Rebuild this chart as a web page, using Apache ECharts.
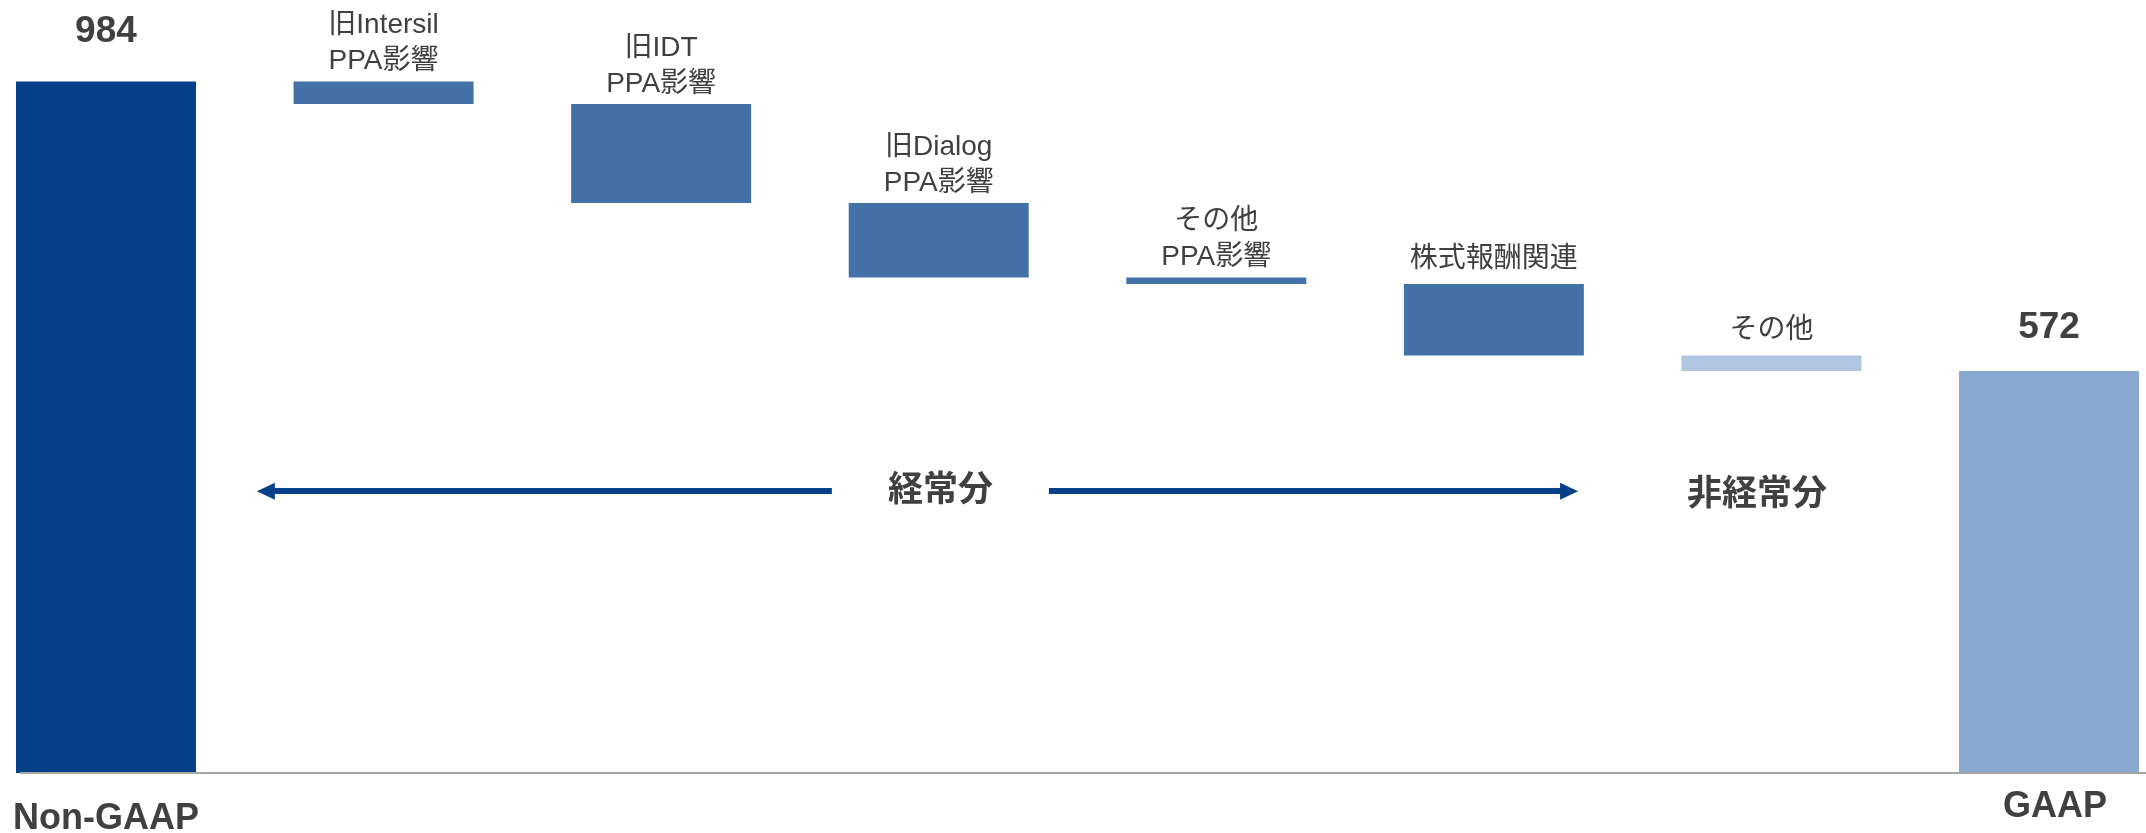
<!DOCTYPE html>
<html>
<head>
<meta charset="utf-8">
<script src="https://cdn.jsdelivr.net/npm/echarts@6/dist/echarts.min.js"></script>
<style>
html,body{margin:0;padding:0;background:#fff;}
#chart{width:2146px;height:833px;}
</style>
</head>
<body>
<div id="chart"></div>
<script>
// ---- data ----
const categories = ['Non-GAAP', '旧Intersil\nPPA影響', '旧IDT\nPPA影響', '旧Dialog\nPPA影響', 'その他\nPPA影響', '株式報酬関連', 'その他', 'GAAP'];
const changes = [984, -32, -141, -106, -9, -102, -22, 572];
const kinds = ['total', 'delta', 'delta', 'delta', 'delta', 'delta', 'other', 'total'];
const sectionLabels = ['経常分', '非経常分'];

// ---- styles ----
const FONT = "'Liberation Sans', 'Noto Sans CJK JP', sans-serif";
const TEXT = '#404040';
const barColors = ['#07408A', '#4571A9', '#4571A9', '#4571A9', '#4571A9', '#4571A9', '#B0C6E1', '#8AA9D0'];
const labelDistances = [31, 2, 2, 2, 2, 7, 7, 25];

// build waterfall (base + visible)
const baseData = [];
const barData = [];
let running = 0;
changes.forEach((v, i) => {
  if (kinds[i] === 'total') {
    baseData.push(0);
    barData.push({
      value: v,
      itemStyle: { color: barColors[i] },
      label: {
        show: true, position: 'top', distance: labelDistances[i],
        formatter: String(v),
        fontFamily: FONT, fontSize: 37, fontWeight: 'bold', color: TEXT
      }
    });
    running = v;
  } else {
    const next = running + v;
    baseData.push(Math.min(running, next));
    barData.push({
      value: Math.abs(v),
      itemStyle: { color: barColors[i] },
      label: {
        show: true, position: 'top', distance: labelDistances[i],
        formatter: categories[i],
        fontFamily: FONT, fontSize: 28, lineHeight: 36, color: TEXT
      }
    });
    running = next;
  }
});

// per-category axis label tweaks (last label sits a little higher / right)
const axisData = categories.map((c, i) => (
  i === categories.length - 1
    ? { value: c, textStyle: { verticalAlign: 'top', lineHeight: 12, padding: [0, 0, 0, 12] } }
    : c
));

const chart = echarts.init(document.getElementById('chart'), null, { renderer: 'canvas' });
const ARROW_Y = 401;
chart.setOption({
  animation: false,
  backgroundColor: '#ffffff',
  grid: [
    { left: -32.8, width: 2220.6, top: 0, bottom: 60, containLabel: false, outerBoundsMode: 'none' },
    { left: 21, right: 0, top: 0, bottom: 60, containLabel: false, outerBoundsMode: 'none' }
  ],
  xAxis: [
    {
      type: 'category', gridIndex: 0, data: axisData,
      axisLine: { show: false }, axisTick: { show: false },
      axisLabel: {
        interval: 0, margin: 28,
        formatter: (v, i) => (kinds[i] === 'total' ? v : ''),
        fontFamily: FONT, fontSize: 36, fontWeight: 'bold', color: TEXT
      }
    },
    { type: 'value', gridIndex: 0, min: -0.5, max: 7.5, show: false },
    {
      type: 'value', gridIndex: 1, min: 0, max: 1, z: 10,
      axisLine: { show: true, lineStyle: { color: '#A6A6A6', width: 2 } },
      axisTick: { show: false }, axisLabel: { show: false }, splitLine: { show: false }
    }
  ],
  yAxis: [
    { type: 'value', gridIndex: 0, min: 0, max: 1100, show: false, splitLine: { show: false } },
    { type: 'value', gridIndex: 1, min: 0, max: 1, show: false, splitLine: { show: false } }
  ],
  series: [
    {
      name: 'base', type: 'bar', stack: 'wf', xAxisIndex: 0, yAxisIndex: 0,
      barWidth: 180, itemStyle: { color: 'transparent' }, silent: true,
      data: baseData
    },
    {
      name: 'value', type: 'bar', stack: 'wf', xAxisIndex: 0, yAxisIndex: 0,
      barWidth: 180, data: barData
    },
    {
      name: 'annot', type: 'line', xAxisIndex: 1, yAxisIndex: 0, data: [],
      silent: true,
      markLine: {
        silent: true, animation: false,
        symbolSize: [17, 18],
        label: { show: false },
        lineStyle: { color: '#07408A', width: 6, type: 'solid' },
        data: [
          [{ coord: [0.576, ARROW_Y], symbol: 'triangle' }, { coord: [2.615, ARROW_Y], symbol: 'none' }],
          [{ coord: [3.397, ARROW_Y], symbol: 'none' }, { coord: [5.271, ARROW_Y], symbol: 'triangle' }]
        ]
      },
      markPoint: {
        silent: true, animation: false,
        symbol: 'rect', symbolSize: 1,
        itemStyle: { color: 'transparent' },
        label: {
          show: true, position: 'inside', formatter: '{b}',
          fontFamily: FONT, fontSize: 35, fontWeight: 'bold', color: TEXT
        },
        data: [
          { name: sectionLabels[0], coord: [3.006, 400.6] },
          { name: sectionLabels[1], coord: [5.948, 395.6] }
        ]
      }
    }
  ]
});
</script>
</body>
</html>
